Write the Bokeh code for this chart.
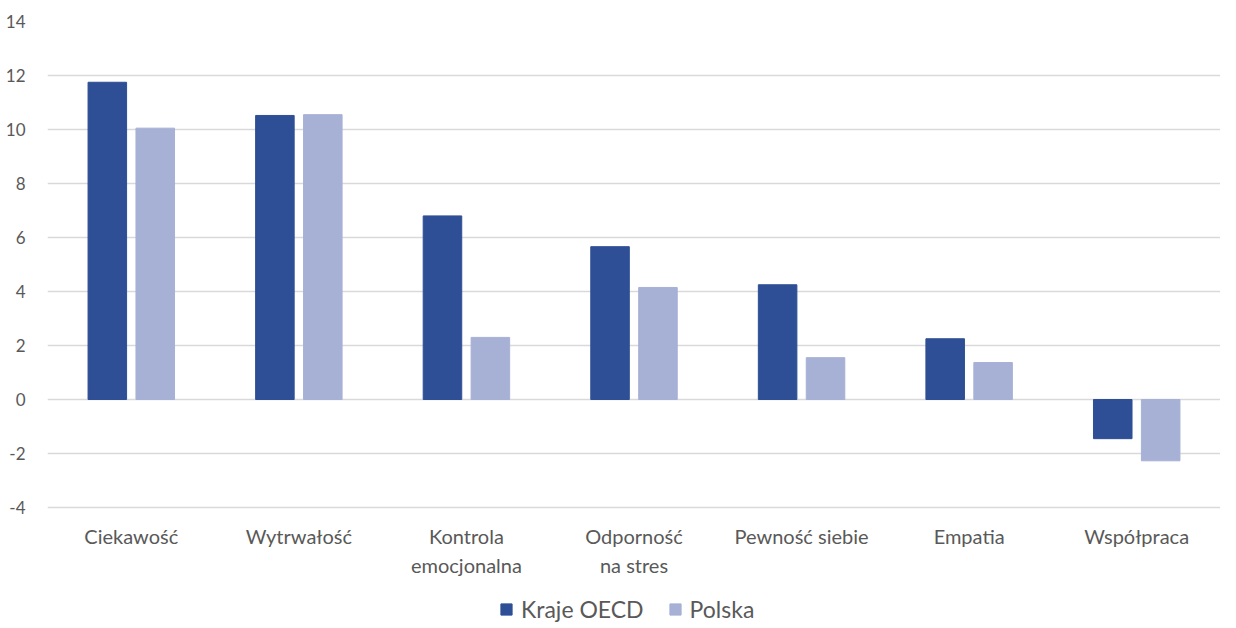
from bokeh.plotting import figure
from bokeh.models import ColumnDataSource, Legend, LegendItem, FixedTicker
from bokeh.transform import dodge
from bokeh.core.properties import value
from bokeh.embed import file_html
from bokeh.resources import INLINE

categories = ["Ciekawość", "Wytrwałość", "Kontrola\nemocjonalna", "Odporność\nna stres",
              "Pewność siebie", "Empatia", "Współpraca"]
oecd = [11.75, 10.52, 6.8, 5.66, 4.25, 2.25, -1.45]
polska = [10.05, 10.55, 2.3, 4.15, 1.55, 1.37, -2.27]
y_ticks = [-4, -2, 0, 2, 4, 6, 8, 10, 12, 14]
series_names = ["Kraje OECD", "Polska"]

FONT = "Lato"
TXT = "#595959"

src = ColumnDataSource(dict(cat=categories, oecd=oecd, polska=polska))

p = figure(frame_width=1173, frame_height=604, x_range=categories, y_range=(-8.37, 14),
           output_backend="svg", toolbar_location=None,
           min_border_left=47, min_border_right=0, min_border_top=21, min_border_bottom=0)

r1 = p.vbar(x=dodge("cat", -0.143, range=p.x_range), top="oecd", width=0.23, source=src,
            fill_color="#2E4F95", line_color="#2E4F95")
r2 = p.vbar(x=dodge("cat", 0.143, range=p.x_range), top="polska", width=0.23, source=src,
            fill_color="#A7B1D6", line_color="#A7B1D6")

# category labels under the plot area
p.text(x="cat", y=-4.62, text="cat", source=src,
       text_font=value(FONT), text_font_size=value("20px"), text_color=TXT,
       text_align="center", text_baseline="top", text_line_height=1.2)

p.yaxis.ticker = FixedTicker(ticks=y_ticks)
p.yaxis.major_label_overrides = {t: str(t) for t in y_ticks}
p.yaxis.axis_line_color = None
p.yaxis.major_tick_line_color = None
p.yaxis.minor_tick_line_color = None
p.yaxis.major_label_standoff = 16
p.yaxis.major_label_text_font = FONT
p.yaxis.major_label_text_font_size = "17px"
p.yaxis.major_label_text_color = TXT

p.xaxis.visible = False

p.xgrid.grid_line_color = None
p.ygrid.grid_line_color = "#D9D9D9"
p.ygrid.grid_line_width = 1.5
p.outline_line_color = None

legend = Legend(items=[LegendItem(label=series_names[0], renderers=[r1]),
                       LegendItem(label=series_names[1], renderers=[r2])],
                orientation="horizontal", location=(452, 2))
legend.label_text_font = FONT
legend.label_text_font_size = "23px"
legend.label_text_color = TXT
legend.label_height = 14
legend.glyph_width = 14
legend.glyph_height = 14
legend.label_standoff = 8
legend.spacing = 24
legend.border_line_color = None
legend.background_fill_alpha = 0
legend.padding = 0
legend.margin = 0
p.add_layout(legend, "center")

open("out.html", "w").write(file_html(p, INLINE))
